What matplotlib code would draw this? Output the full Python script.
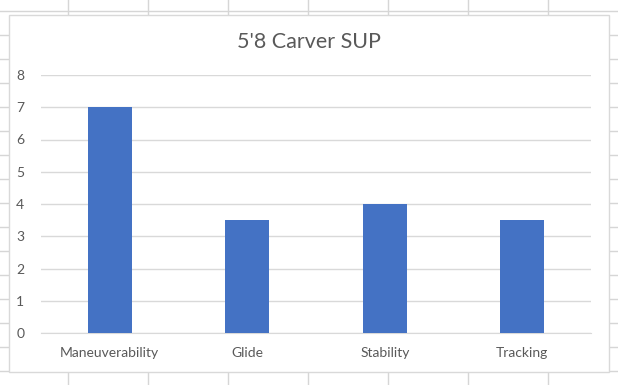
import matplotlib.pyplot as plt
from matplotlib.lines import Line2D
from matplotlib.patches import Rectangle

categories = ['Maneuverability', 'Glide', 'Stability', 'Tracking']
scores = [7, 3.5, 4, 3.5]
yticks = [0, 1, 2, 3, 4, 5, 6, 7, 8]
title = "5'8 Carver SUP"

W, H = 618, 385
plt.rcParams['font.family'] = ['Lato', 'DejaVu Sans']

fig = plt.figure(figsize=(W / 100, H / 100), dpi=100)
fig.patch.set_facecolor('white')


def px(x, y):
    # pixel coords (top-left origin) -> figure fraction
    return x / W, 1 - y / H


# spreadsheet cell lines behind the chart
sheet = '#d6d6d6'
for xc in [68, 148, 228, 308, 388, 468, 548]:
    fig.add_artist(Line2D([xc / W] * 2, [0, 1], color=sheet, lw=1, zorder=0))
for yr in range(11, 385, 24):
    fig.add_artist(Line2D([0, 1], [1 - yr / H] * 2, color=sheet, lw=1, zorder=0))

# chart area
x0, y0 = px(9, 372)
x1, y1 = px(609, 15)
fig.add_artist(Rectangle((x0, y0), x1 - x0, y1 - y0, transform=fig.transFigure,
                         facecolor='white', edgecolor='#d9d9d9', lw=1, zorder=1))

left, bottom = px(41, 333)
right, top = px(591, 75)
ax = fig.add_axes([left, bottom, right - left, top - bottom], zorder=2)
ax.set_facecolor('none')

ax.bar(range(len(categories)), scores, width=0.32, color='#4472c4', zorder=3)
ax.set_xlim(-0.5, len(categories) - 0.5)
ax.set_ylim(0, 8)
ax.set_yticks(yticks)
ax.set_xticks(range(len(categories)))
ax.set_xticklabels(categories)
ax.yaxis.grid(True, color='#d9d9d9', lw=1)
ax.set_axisbelow(True)
for s in ['top', 'right', 'left']:
    ax.spines[s].set_visible(False)
ax.spines['bottom'].set_color('#d9d9d9')
ax.tick_params(length=0, labelsize=10, labelcolor='#595959')
ax.tick_params(axis='y', pad=12)
ax.tick_params(axis='x', pad=10)

fig.text(309 / W, 1 - 42 / H, title, ha='center', va='center',
         fontsize=15.5, color='#595959', zorder=3)

fig.savefig('out.png', dpi=100)
